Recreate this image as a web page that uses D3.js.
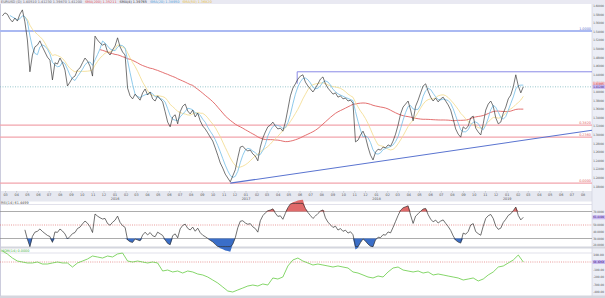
<!DOCTYPE html>
<html><head><meta charset="utf-8">
<script src="https://cdn.jsdelivr.net/npm/d3@7"></script>
<style>body{margin:0;background:#fff}svg{display:block;font-family:"DejaVu Sans",sans-serif}</style>
</head><body><svg id="c" width="605" height="298"></svg>
<script>
// ---------- DATA ----------
const priceStart = "2015-02-20";          // weekly closes
const closes = [
1.577,1.584,1.581,1.570,1.563,1.572,1.565,1.581,1.591,1.563,
1.521,1.447,1.486,1.505,1.509,1.519,1.505,1.493,1.481,1.474,
1.428,1.468,1.465,1.479,1.468,1.451,1.414,1.423,1.433,1.437,
1.451,1.456,1.468,1.479,1.472,1.460,1.437,1.530,1.521,1.514,
1.509,1.512,1.493,1.486,1.498,1.507,1.526,1.505,1.493,1.486,
1.409,1.391,1.384,1.395,1.388,1.381,1.398,1.407,1.393,1.400,
1.384,1.379,1.391,1.384,1.377,1.354,1.330,1.319,1.342,1.347,
1.326,1.354,1.367,1.372,1.356,1.349,1.358,1.342,1.351,1.333,
1.321,1.314,1.305,1.295,1.286,1.270,1.253,1.235,1.223,1.209,
1.200,1.191,1.205,1.219,1.247,1.272,1.274,1.267,1.263,1.265,
1.256,1.251,1.240,1.272,1.293,1.307,1.319,1.323,1.330,1.321,
1.314,1.316,1.309,1.330,1.360,1.391,1.409,1.419,1.430,1.437,
1.440,1.423,1.414,1.407,1.400,1.409,1.419,1.430,1.435,1.419,
1.409,1.402,1.395,1.398,1.388,1.391,1.384,1.386,1.379,1.381,
1.374,1.284,1.288,1.300,1.309,1.295,1.272,1.253,1.242,1.260,
1.267,1.265,1.272,1.270,1.277,1.274,1.286,1.302,1.323,1.349,
1.365,1.372,1.379,1.358,1.333,1.367,1.381,1.398,1.414,1.419,
1.402,1.388,1.379,1.386,1.377,1.384,1.388,1.379,1.370,1.358,
1.337,1.314,1.302,1.295,1.319,1.314,1.321,1.340,1.344,1.316,
1.307,1.300,1.326,1.358,1.372,1.379,1.367,1.340,1.326,1.330,
1.351,1.365,1.384,1.393,1.412,1.440,1.414,1.398,1.412
];
const oscStart = "2015-02-20";            // bi-weekly oscillator values
const oscValues = [
147,107,53,13,0,-13,-13,0,-27,-27,
-13,0,-13,-13,-67,-13,13,40,80,67,
53,80,67,107,120,13,0,13,0,-13,
0,-13,-120,-107,-133,-120,-147,-120,-133,-160,
-173,-200,-240,-280,-333,-387,-400,-373,-347,-320,
-307,-320,-293,-307,-213,-227,-200,-53,27,53,
13,-13,-40,-27,-40,-53,-67,-53,-67,-80,
-133,-147,-173,-200,-213,-187,-200,-133,-80,-67,
-107,-120,-133,-120,-147,-133,-173,-160,-173,-187,
-200,-213,-240,-227,-213,-253,-227,-173,-133,-67,
-53,-13,27,93,0
];
const priceTicks = [1.18,1.20,1.22,1.24,1.26,1.28,1.30,1.32,1.34,1.36,1.38,1.40,1.42,1.44,1.46,1.48,1.50,1.52,1.54,1.56,1.58,1.60];
const rsiTicks = [20,30,40,50,60,70];
const oscTicks = [100,0,-100,-200,-300,-400];
const fibLevels = [
  {value:1.542, label:"1.0000", color:"#aab9f2", width:2, tc:"#6070d0"},
  {value:1.323, label:"0.3820", color:"#f2a4ac", width:1.2, tc:"#e06060"},
  {value:1.295, label:"0.2360", color:"#f2a4ac", width:1.2, tc:"#e06060"},
  {value:1.188, label:"0.0000", color:"#f2a4ac", width:1.2, tc:"#e06060"}
];
const rangeTop = {start:"2017-05-24", value:1.447, low:1.419};
const trend = {start:"2016-11-18", v0:1.188, end:"2019-08-26", v1:1.311};
const headerTexts = [
  {t:"EURUSD (D) 1.40510 1.41230 1.39870 1.41200", c:"#666"},
  {t:"SMA(200) 1.35211", c:"#e05050"},
  {t:"SMA(4) 1.39765", c:"#333"},
  {t:"SMA(20) 1.38950", c:"#4a9fd8"},
  {t:"SMA(50) 1.36820", c:"#e8c040"}
];

// ---------- SETUP ----------
const svg = d3.select("#c");
const W = 605, H = 298, R = 592;
const parse = d3.timeParse("%Y-%m-%d");
const d0 = parse(priceStart);
const dates = closes.map((_, i) => d3.timeDay.offset(d0, 7 * i));
const oscDates = oscValues.map((_, i) => d3.timeDay.offset(parse(oscStart), 14 * i));

const x = d3.scaleTime().domain([parse("2015-02-19"), parse("2019-08-26")]).range([2, R]);
const y = d3.scaleLinear().domain([1.17209, 1.60465]).range([190, 4]);
const yR = d3.scaleLinear().domain([30, 70]).range([238.5, 211.5]);
const yO = d3.scaleLinear().domain([-400, 100]).range([292, 254.5]);

function sma(a, n) { return a.map((v, i) => i < n - 1 ? null : d3.mean(a.slice(i - n + 1, i + 1))); }
function rsi(a, n) {
  const out = a.map(() => null); let ag = 0, al = 0;
  for (let i = 1; i < a.length; i++) {
    const ch = a[i] - a[i - 1], g = Math.max(ch, 0), l = Math.max(-ch, 0);
    if (i <= n) { ag += g / n; al += l / n; if (i === n) out[i] = 100 - 100 / (1 + ag / (al || 1e-9)); }
    else { ag = (ag * (n - 1) + g) / n; al = (al * (n - 1) + l) / n; out[i] = 100 - 100 / (1 + ag / (al || 1e-9)); }
  }
  return out;
}
function axisLabel(g, yy, txt, fill) {
  return g.append("text").attr("x", 593.2).attr("y", yy + 1.1).attr("font-size", 3.1)
    .attr("textLength", 10.8).attr("lengthAdjust", "spacingAndGlyphs").attr("fill", fill || "#555").text(txt);
}

// backgrounds
svg.append("rect").attr("width", W).attr("height", H).attr("fill", "#fff");
svg.append("rect").attr("x", 0).attr("y", 0).attr("width", W).attr("height", 4).attr("fill", "#e9e9f2");
svg.append("rect").attr("x", R).attr("y", 4).attr("width", W - R).attr("height", H - 4).attr("fill", "#eceef6");
svg.append("rect").attr("x", 0).attr("y", 191).attr("width", R).attr("height", 10.5).attr("fill", "#e6e8f0");
svg.append("rect").attr("x", 0).attr("y", 246.5).attr("width", W).attr("height", 2).attr("fill", "#d4d6de");
svg.append("rect").attr("x", 0).attr("y", 295.5).attr("width", W).attr("height", 2.5).attr("fill", "#d4d6de");
svg.append("line").attr("x1", 0.5).attr("x2", 0.5).attr("y1", 4).attr("y2", 296).attr("stroke", "#ccd").attr("stroke-width", 1);
svg.append("line").attr("x1", R).attr("x2", R).attr("y1", 4).attr("y2", 296).attr("stroke", "#ccd").attr("stroke-width", 0.6);
svg.append("line").attr("x1", 0).attr("x2", R).attr("y1", 204.5).attr("y2", 204.5).attr("stroke", "#ccd").attr("stroke-width", 0.6);
svg.append("line").attr("x1", 0).attr("x2", R).attr("y1", 253).attr("y2", 253).attr("stroke", "#ccd").attr("stroke-width", 0.6);

// header
let hx = 1;
const hg = svg.append("g").attr("font-size", 3.4);
headerTexts.forEach(h => {
  const t = hg.append("text").attr("x", hx).attr("y", 3.1).attr("fill", h.c).text(h.t);
  hx += t.node().getComputedTextLength() + 3;
});

// ---------- MAIN PANEL ----------
const main = svg.append("g");
const last = closes[closes.length - 1];
main.append("line").attr("x1", 0).attr("x2", R).attr("y1", y(last)).attr("y2", y(last))
  .attr("stroke", "#7fb8c0").attr("stroke-width", 0.8).attr("stroke-dasharray", "1,1.5");
fibLevels.forEach(f => {
  main.append("line").attr("x1", 0).attr("x2", R).attr("y1", y(f.value)).attr("y2", y(f.value))
    .attr("stroke", f.color).attr("stroke-width", f.width);
  main.append("text").attr("x", R - 1).attr("y", y(f.value) - 1.2).attr("text-anchor", "end")
    .attr("font-size", 3.4).attr("fill", f.tc).text(f.label);
});
main.append("path").attr("fill", "none").attr("stroke", "#8a8ae6").attr("stroke-width", 1)
  .attr("d", `M${x(parse(rangeTop.start))},${y(rangeTop.low)}V${y(rangeTop.value)}H${R}`);
main.append("line").attr("x1", x(parse(trend.start))).attr("y1", y(trend.v0))
  .attr("x2", x(parse(trend.end))).attr("y2", y(trend.v1)).attr("stroke", "#5a74d0").attr("stroke-width", 1.1);

const line = d3.line().defined(d => d[1] != null).x(d => x(d[0])).y(d => y(d[1]));
const maDefs = [{n: 40, c: "#e06060", w: 0.9}, {n: 10, c: "#f2da8a", w: 0.8}, {n: 4, c: "#72bce6", w: 0.8}];
maDefs.forEach(m => {
  const vals = sma(closes, m.n);
  main.append("path").attr("fill", "none").attr("stroke", m.c).attr("stroke-width", m.w)
    .attr("d", line(dates.map((d, i) => [d, vals[i]])));
});
main.append("path").attr("fill", "none").attr("stroke", "#3a3a3a").attr("stroke-width", 0.7)
  .attr("d", line(dates.map((d, i) => [d, closes[i]])));

const ag = svg.append("g");
priceTicks.forEach(v => axisLabel(ag, y(v), v.toFixed(5)));
const maxLbl = 1.41905;
[[maxLbl, "#f6c8cc", "#c03040"], [last, "#c8b8f0", "#402080"]].forEach(([v, bg, fg]) => {
  svg.append("rect").attr("x", 592.5).attr("y", y(v) - 2).attr("width", 12.5).attr("height", 4).attr("fill", bg);
  axisLabel(svg, y(v), v.toFixed(5), fg);
});

// ---------- TIME AXIS ----------
const tg = svg.append("g").attr("font-size", 3.4).attr("fill", "#555");
x.ticks(d3.timeMonth.every(1)).forEach(d => {
  const px = x(d);
  if (px < 2 || px > R - 2) return;
  tg.append("text").attr("x", px).attr("y", 196).attr("text-anchor", "middle").text(d3.timeFormat("%m")(d));
  tg.append("line").attr("x1", px).attr("x2", px).attr("y1", 191).attr("y2", 192.5).attr("stroke", "#999").attr("stroke-width", 0.4);
  if (d.getMonth() === 0) tg.append("text").attr("x", px).attr("y", 200).attr("text-anchor", "middle").text(d3.timeFormat("%Y")(d));
});

// ---------- RSI PANEL ----------
const rsiVals = rsi(closes, 9);
const lastRsi = rsiVals[rsiVals.length - 1];
svg.append("text").attr("x", 1).attr("y", 203.6).attr("font-size", 3.4).attr("fill", "#444").text("RSI(14) " + lastRsi.toFixed(4));
[[70, "#888", null], [30, "#888", null], [50, "#e07070", "1,1.2"]].forEach(([v, c, da]) => {
  svg.append("line").attr("x1", 0).attr("x2", R).attr("y1", yR(v)).attr("y2", yR(v))
    .attr("stroke", c).attr("stroke-width", 0.7).attr("stroke-dasharray", da);
});
const rPts = dates.map((d, i) => [d, rsiVals[i]]).filter(p => p[1] != null);
svg.append("path").attr("fill", "#3a6ec8")
  .attr("d", d3.area().x(d => x(d[0])).y0(yR(30)).y1(d => yR(Math.min(d[1], 30)))(rPts));
svg.append("path").attr("fill", "#e06a6a")
  .attr("d", d3.area().x(d => x(d[0])).y0(yR(70)).y1(d => yR(Math.max(d[1], 70)))(rPts));
svg.append("path").attr("fill", "none").attr("stroke", "#333").attr("stroke-width", 0.7)
  .attr("d", d3.line().x(d => x(d[0])).y(d => yR(Math.max(18, Math.min(82, d[1]))))(rPts));
rsiTicks.forEach(v => axisLabel(ag, yR(v), v.toFixed(4)));
svg.append("rect").attr("x", 592.5).attr("y", yR(lastRsi) - 2).attr("width", 12.5).attr("height", 4).attr("fill", "#c8b8f0");
axisLabel(svg, yR(lastRsi), lastRsi.toFixed(4), "#402080");

// ---------- OSCILLATOR PANEL ----------
const lastOsc = oscValues[oscValues.length - 1];
svg.append("text").attr("x", 1).attr("y", 252.2).attr("font-size", 3.4).attr("fill", "#40b040").text("MOM(14) " + lastOsc.toFixed(4));
svg.append("line").attr("x1", 0).attr("x2", R).attr("y1", yO(0)).attr("y2", yO(0))
  .attr("stroke", "#e07070").attr("stroke-width", 0.7).attr("stroke-dasharray", "1,1.2");
svg.append("path").attr("fill", "none").attr("stroke", "#66cc44").attr("stroke-width", 0.8)
  .attr("d", d3.line().x((d, i) => x(oscDates[i])).y(d => yO(d))(oscValues));
oscTicks.forEach(v => axisLabel(ag, yO(v), v.toFixed(2)));
svg.append("rect").attr("x", 592.5).attr("y", yO(lastOsc) - 2).attr("width", 12.5).attr("height", 4).attr("fill", "#c8b8f0");
axisLabel(svg, yO(lastOsc), lastOsc.toFixed(2), "#402080");
</script></body></html>
